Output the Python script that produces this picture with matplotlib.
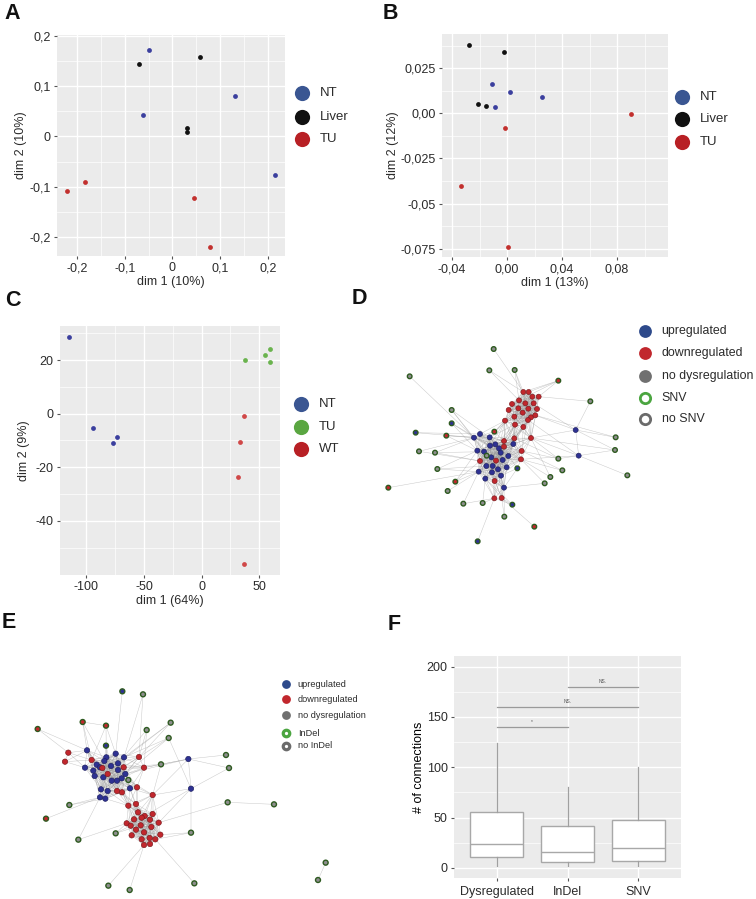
import numpy as np
import matplotlib
matplotlib.use('Agg')
import matplotlib.pyplot as plt
from matplotlib.collections import LineCollection

plt.rcParams['font.family'] = ['Liberation Sans', 'DejaVu Sans']

# ---------------- data ----------------
# Panel A (MDS)
a_nt_x = [-0.049, 0.132, -0.061, 0.215]
a_nt_y = [0.172, 0.080, 0.042, -0.077]
a_liver_x = [-0.071, 0.057, 0.030, 0.031]
a_liver_y = [0.144, 0.157, 0.017, 0.009]
a_tu_x = [-0.222, -0.183, 0.045, 0.079]
a_tu_y = [-0.108, -0.091, -0.122, -0.219]
a_labels = ['NT', 'Liver', 'TU']

# Panel B
b_nt_x = [-0.0107, 0.0022, 0.0255, -0.0085]
b_nt_y = [0.0163, 0.0117, 0.0089, 0.0037]
b_liver_x = [-0.0279, -0.0024, -0.0211, -0.0153]
b_liver_y = [0.0381, 0.0339, 0.0050, 0.0041]
b_tu_x = [-0.0012, 0.0902, -0.0337, 0.0007]
b_tu_y = [-0.0080, -0.0004, -0.0402, -0.0741]
b_labels = ['NT', 'Liver', 'TU']

# Panel C
c_nt_x = [-115.2, -94.3, -73.7, -76.9]
c_nt_y = [28.7, -5.2, -8.7, -10.9]
c_tu_x = [37.7, 55.4, 59.2, 59.2]
c_tu_y = [20.0, 21.9, 24.1, 19.3]
c_wt_x = [37.1, 33.7, 31.6, 36.9]
c_wt_y = [-0.7, -10.6, -23.5, -56.0]
c_labels = ['NT', 'TU', 'WT']

# Panel D network (layout coordinates)
d_up_x = [282, 300, 329, 346, 330, 357, 362, 292, 312, 400, 385, 368, 334, 319, 338, 354, 380, 296, 316, 336, 363, 372]
d_up_y = [443, 432, 442, 463, 467, 475, 488, 482, 485, 462, 498, 510, 502, 528, 528, 538, 532, 545, 566, 547, 557, 593]
d_down_x = [430, 446, 457, 476, 417, 436, 461, 396, 386, 415, 445, 471, 428, 403, 453, 466, 444, 375, 405, 430,
            403, 453, 372, 372, 425, 423, 300, 348, 344, 343, 365]
d_down_y = [306, 306, 320, 320, 331, 340, 340, 342, 360, 355, 356, 357, 368, 380, 382, 376, 390, 392, 404, 411,
            445, 444, 453, 470, 483, 508, 513, 512, 573, 625, 624]
d_per_x = [341, 89, 328, 404, 535, 631, 215, 215, 107, 199, 343, 117, 165, 172, 226, 203, 25, 250, 308, 373,
           397, 463, 293, 707, 705, 742, 535, 547, 511, 494, 412, 320, 587, 596]
d_per_y = [177, 259, 241, 240, 272, 334, 360, 400, 428, 437, 425, 484, 488, 537, 575, 603, 593, 641, 639, 680,
           644, 710, 754, 442, 480, 556, 506, 541, 561, 580, 535, 497, 420, 497]
d_per_kind = ['n', 'n', 'n', 'n', 'd', 'n', 'n', 'u', 'u', 'd', 'd', 'n', 'n', 'n', 'd', 'n', 'd', 'n', 'n', 'n',
              'u', 'd', 'u', 'n', 'n', 'n', 'n', 'n', 'n', 'n', 'u', 'n', 'u', 'u']
d_per_ring = [1] * 32 + [0, 0]
d_per_k = [1, 1, 2, 3, 4, 1, 3, 3, 2, 3, 5, 2, 3, 3, 3, 1, 1, 2, 2, 2, 3, 1, 1, 1, 1, 0, 3, 2, 2, 2, 4, 5, 3, 3]
d_extra_a = [32, 32, 32, 33, 33, 33, 32]
d_extra_b = [5, 23, 24, 25, 24, 26, 33]

# Panel E network (layout coordinates)
e_up_x = [261, 319, 347, 372, 290, 313, 354, 333, 255, 280, 300, 354, 376, 284, 310, 335, 351, 365, 303, 323, 300, 316, 390]
e_up_y = [511, 532, 521, 532, 554, 543, 550, 558, 563, 572, 562, 570, 582, 588, 592, 602, 602, 595, 628, 633, 652, 656, 625]
e_down_x = [205, 195, 275, 307, 323, 371, 351, 366, 417, 432, 411, 458, 385, 408, 414, 434, 458, 402, 425, 450, 476,
            380, 392, 422, 454, 408, 432, 395, 425, 449, 466, 481, 432, 450]
e_down_y = [518, 545, 540, 564, 582, 562, 633, 637, 531, 563, 622, 645, 677, 672, 697, 708, 702, 718, 713, 719, 728,
            730, 737, 736, 741, 749, 757, 766, 778, 774, 778, 764, 795, 792]
e_per_x = [367, 429, 113, 248, 318, 318, 440, 512, 506, 483, 678, 687, 683, 822, 208, 138, 235, 347, 573, 325,
           389, 583, 977, 954, 385, 565, 573]
e_per_y = [334, 343, 447, 426, 437, 497, 450, 428, 474, 553, 525, 564, 667, 673, 675, 716, 779, 760, 758, 917,
           930, 910, 848, 900, 600, 537, 626]
e_per_kind = ['u', 'n', 'd', 'd', 'd', 'u', 'n', 'n', 'n', 'n', 'n', 'n', 'n', 'n', 'n', 'd', 'n', 'n', 'n', 'n',
              'n', 'n', 'n', 'n', 'n', 'u', 'u']
e_per_ring = [1] * 25 + [0, 0]
e_per_k = [1, 2, 2, 3, 3, 3, 3, 3, 3, 3, 0, 0, 1, 0, 2, 1, 2, 3, 2, 1, 1, 1, 0, 0, 6, 3, 3]
e_extra_a = [25, 25, 25, 26, 26, 12, 22, 3, 26, 25]
e_extra_b = [10, 11, 9, 18, 8, 13, 23, 4, 11, 26]

net_legend = ['upregulated', 'downregulated', 'no dysregulation']

# Panel F boxplot
f_cats = ['Dysregulated', 'InDel', 'SNV']
f_lo = [2, 2, 2]
f_q1 = [10.6, 5.6, 6.6]
f_med = [24.2, 15.9, 20.2]
f_q3 = [56.0, 42.1, 48.1]
f_hi = [124.4, 80.0, 100.0]
sig_from = [0, 0, 1]
sig_to = [1, 2, 2]
sig_y = [140, 160, 180]
sig_text = ['*', 'NS.', 'NS.']

# ---------------- figure ----------------
W, H = 756, 899
fig = plt.figure(figsize=(W / 100, H / 100), dpi=100)


def ax_px(x0, y0, x1, y1):
    return fig.add_axes([x0 / W, 1 - y1 / H, (x1 - x0) / W, (y1 - y0) / H])


TXT = '#2b2b2b'
FS = 9.0


def gg(ax, xlim, ylim, xmaj, xlab, xmin, ymaj, ylab, ymin):
    ax.set_facecolor('#EBEBEB')
    for s in ax.spines.values():
        s.set_visible(False)
    ax.set_xlim(*xlim)
    ax.set_ylim(*ylim)
    ax.set_xticks(xmaj)
    ax.set_xticklabels(xlab)
    ax.set_xticks(xmin, minor=True)
    ax.set_yticks(ymaj)
    ax.set_yticklabels(ylab)
    ax.set_yticks(ymin, minor=True)
    ax.grid(which='major', color='white', lw=1.0)
    ax.grid(which='minor', color='white', lw=0.5)
    ax.set_axisbelow(True)
    ax.tick_params(which='minor', length=0)
    ax.tick_params(which='major', length=2.5, color='#555555', labelsize=FS,
                   labelcolor=TXT, pad=2)


NT_PT = '#3B3F9E'
BLK = '#111111'
RED_PT = '#C2302E'
PS = 12

# Panel A
axA = ax_px(57, 35, 285, 256)
gg(axA, (-0.242, 0.236), (-0.237, 0.201),
   [-0.2, -0.1, 0, 0.1, 0.2], ['-0,2', '-0,1', '0', '0,1', '0,2'], [-0.15, -0.05, 0.05, 0.15],
   [-0.2, -0.1, 0, 0.1, 0.2], ['-0,2', '-0,1', '0', '0,1', '0,2'], [-0.15, -0.05, 0.05, 0.15])
axA.scatter(a_nt_x, a_nt_y, s=PS, color=NT_PT, lw=0)
axA.scatter(a_liver_x, a_liver_y, s=PS, color=BLK, lw=0)
axA.scatter(a_tu_x, a_tu_y, s=PS, color=RED_PT, lw=0)
axA.set_xlabel('dim 1 (10%)', fontsize=FS, color=TXT, labelpad=1)
axA.set_ylabel('dim 2 (10%)', fontsize=FS, color=TXT, labelpad=1.5)

# Panel B
axB = ax_px(442, 34, 668, 257)
gg(axB, (-0.0473, 0.117), (-0.0796, 0.044),
   [-0.04, 0, 0.04, 0.08], ['-0,04', '0,00', '0,04', '0,08'], [-0.02, 0.02, 0.06, 0.10],
   [-0.075, -0.05, -0.025, 0, 0.025], ['-0,075', '-0,05', '-0,025', '0,00', '0,025'],
   [-0.0625, -0.0375, -0.0125, 0.0125, 0.0375])
axB.scatter(b_nt_x, b_nt_y, s=PS, color=NT_PT, lw=0)
axB.scatter(b_liver_x, b_liver_y, s=PS, color=BLK, lw=0)
axB.scatter(b_tu_x, b_tu_y, s=PS, color=RED_PT, lw=0)
axB.set_xlabel('dim 1 (13%)', fontsize=FS, color=TXT, labelpad=1)
axB.set_ylabel('dim 2 (12%)', fontsize=FS, color=TXT, labelpad=1)

# Panel C
axC = ax_px(60, 326, 280, 575)
gg(axC, (-123, 68), (-60.2, 32.7),
   [-100, -50, 0, 50], ['-100', '-50', '0', '50'], [-75, -25, 25],
   [-40, -20, 0, 20], ['-40', '-20', '0', '20'], [-50, -30, -10, 10, 30])
axC.scatter(c_nt_x, c_nt_y, s=PS, color=NT_PT, lw=0)
axC.scatter(c_tu_x, c_tu_y, s=PS, color='#6AB34E', lw=0)
axC.scatter(c_wt_x, c_wt_y, s=PS, color='#D04848', lw=0)
axC.set_xlabel('dim 1 (64%)', fontsize=FS, color=TXT, labelpad=1)
axC.set_ylabel('dim 2 (9%)', fontsize=FS, color=TXT, labelpad=4)

# Panel F
axF = ax_px(454, 656, 681, 878)
gg(axF, (-0.6, 2.6), (-10, 210.6),
   [0, 1, 2], f_cats, [],
   [0, 50, 100, 150, 200], ['0', '50', '100', '150', '200'], [25, 75, 125, 175])
stats = [dict(label=c, whislo=lo, q1=q1, med=m, q3=q3, whishi=hi, fliers=[])
         for c, lo, q1, m, q3, hi in zip(f_cats, f_lo, f_q1, f_med, f_q3, f_hi)]
axF.bxp(stats, positions=[0, 1, 2], widths=0.75, patch_artist=True, showfliers=False,
        boxprops=dict(facecolor='white', edgecolor='#A8A8A8', lw=1.0),
        medianprops=dict(color='#A8A8A8', lw=1.0),
        whiskerprops=dict(color='#A0A0A0', lw=0.9),
        capprops=dict(lw=0), manage_ticks=False)
axF.set_xticks([0, 1, 2])
axF.set_xticklabels(f_cats)
for a, b, yv, t in zip(sig_from, sig_to, sig_y, sig_text):
    axF.plot([a, b], [yv, yv], color='#9A9A9A', lw=0.9)
    axF.text((a + b) / 2, yv + 3, t, fontsize=3.5, color='#555555', ha='center', va='bottom')
axF.set_ylabel('# of connections', fontsize=FS, color='black', labelpad=1.5)
axF.tick_params(axis='x', labelsize=FS, pad=3)

# ---------------- networks ----------------
FILL = {'u': '#2E3192', 'd': '#C1272D', 'n': '#8E8E8E'}
EDGE = {'u': '#1E2060', 'd': '#7A1A1E', 'n': '#555555'}
RING = '#2E5A20'
RANKS = [0, 2, 5, 9, 14, 20, 27]


def draw_net(ax, up_x, up_y, dn_x, dn_y, px, py, pk, pring, pnum, ea, eb, thr, s):
    cx = np.array(up_x + dn_x, float)
    cy = np.array(up_y + dn_y, float)
    ckind = ['u'] * len(up_x) + ['d'] * len(dn_x)
    segs = []
    n = len(cx)
    for i in range(n):
        for j in range(i + 1, n):
            if np.hypot(cx[i] - cx[j], cy[i] - cy[j]) < thr:
                segs.append([(cx[i], cy[i]), (cx[j], cy[j])])
    for x, y, k in zip(px, py, pnum):
        order = np.argsort(np.hypot(cx - x, cy - y))
        for r in RANKS[:k]:
            segs.append([(x, y), (cx[order[r]], cy[order[r]])])
    for a, b in zip(ea, eb):
        segs.append([(px[a], py[a]), (px[b], py[b])])
    ax.add_collection(LineCollection(segs, colors='#9C9C9C', linewidths=0.35, alpha=0.55, zorder=1))
    ax.scatter(cx, cy, s=s, c=[FILL[k] for k in ckind], edgecolors=[EDGE[k] for k in ckind],
               linewidths=0.45, zorder=3)
    ring_idx = [i for i, r in enumerate(pring) if r]
    plain_idx = [i for i, r in enumerate(pring) if not r]
    ax.scatter([px[i] for i in ring_idx], [py[i] for i in ring_idx], s=s * 0.85,
               c=[FILL[pk[i]] for i in ring_idx], edgecolors=RING, linewidths=1.0, zorder=3)
    ax.scatter([px[i] for i in plain_idx], [py[i] for i in plain_idx], s=s,
               c=[FILL[pk[i]] for i in plain_idx], edgecolors=[EDGE[pk[i]] for i in plain_idx],
               linewidths=0.45, zorder=3)


axD = ax_px(380, 290, 756, 590)
axD.set_xlim(0, 1128)
axD.set_ylim(900, 0)
axD.axis('off')
draw_net(axD, d_up_x, d_up_y, d_down_x, d_down_y, d_per_x, d_per_y, d_per_kind, d_per_ring,
         d_per_k, d_extra_a, d_extra_b, 95, 13)

axE = ax_px(0, 580, 380, 899)
axE.set_xlim(0, 1140)
axE.set_ylim(957, 0)
axE.axis('off')
draw_net(axE, e_up_x, e_up_y, e_down_x, e_down_y, e_per_x, e_per_y, e_per_kind, e_per_ring,
         e_per_k, e_extra_a, e_extra_b, 85, 15)

# ---------------- overlay: legends & panel letters ----------------
ov = fig.add_axes([0, 0, 1, 1])
ov.set_xlim(0, W)
ov.set_ylim(H, 0)
ov.axis('off')
ov.patch.set_alpha(0)

LEG_NT = '#3A5692'
LEG_RED = '#B82025'


def pca_legend(x, ys, labels, colors, tx):
    for y, l, c in zip(ys, labels, colors):
        ov.scatter([x], [y], s=120, color=c, lw=0)
        ov.text(tx, y, l, fontsize=9.5, color=TXT, va='center', ha='left')


pca_legend(302, [93.3, 117.3, 139.3], a_labels, [LEG_NT, BLK, LEG_RED], 320)
pca_legend(681.7, [96.7, 119.3, 141.7], b_labels, [LEG_NT, BLK, LEG_RED], 700)
pca_legend(301, [404.3, 427.3, 448.7], c_labels, [LEG_NT, '#5AA641', LEG_RED], 318.5)


def net_legend_draw(x, ys, labels, mut, tx, s_dot, s_ring, lw_ring, fs):
    cols = ['#2E4A8B', '#C1272D', '#707070']
    for y, l, c in zip(ys[:3], labels, cols):
        ov.scatter([x], [y], s=s_dot, color=c, lw=0)
        ov.text(tx, y, l, fontsize=fs, color=TXT, va='center', ha='left')
    for y, l, c in zip(ys[3:], [mut, 'no ' + mut], ['#4BA540', '#6B6B6B']):
        ov.scatter([x], [y], s=s_ring, facecolor='white', edgecolor=c, lw=lw_ring)
        ov.text(tx, y, l, fontsize=fs, color=TXT, va='center', ha='left')


net_legend_draw(645, [330.7, 353.3, 375.7, 398.3, 419], net_legend, 'SNV', 661.7, 85, 55, 2.0, 8.9)
net_legend_draw(285.7, [684.3, 699, 715, 733.3, 745.7], net_legend, 'InDel', 297.7, 40, 22, 2.3, 6.6)

for lx, ly, t in [(4, 13.5, 'A'), (383, 13.5, 'B'), (5, 300, 'C'), (352, 298, 'D'),
                  (2, 623, 'E'), (388, 625, 'F')]:
    ov.text(lx, ly, t, fontsize=15.5, fontweight='bold', color='#111111', ha='left', va='center')

fig.savefig('out.png', dpi=100)
